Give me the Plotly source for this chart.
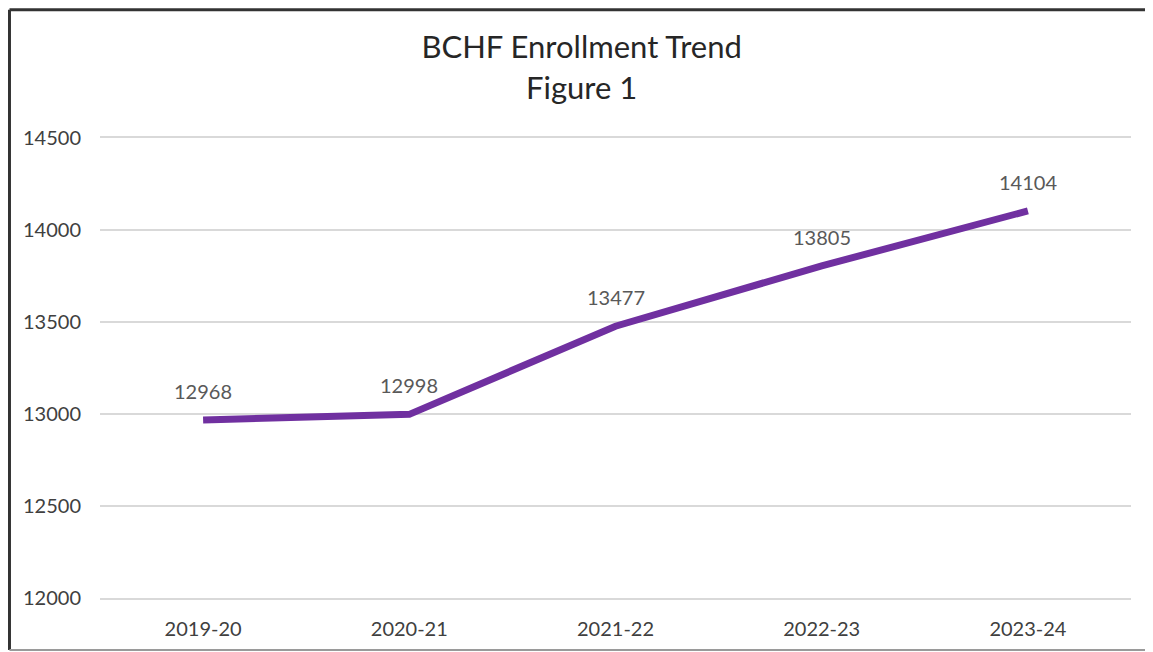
import plotly.graph_objects as go

years = ['2019-20', '2020-21', '2021-22', '2022-23', '2023-24']
enrollment = [12968, 12998, 13477, 13805, 14104]
y_ticks = [12000, 12500, 13000, 13500, 14000, 14500]

purple = '#7030A0'
font_family = 'Lato, Open Sans, sans-serif'

fig = go.Figure()
fig.add_trace(go.Scatter(
    x=years, y=enrollment, mode='lines',
    line=dict(color=purple, width=7),
    hoverinfo='x+y', showlegend=False,
))

# data labels above each point
for yr, val in zip(years, enrollment):
    fig.add_annotation(
        x=yr, y=val, text=str(val), showarrow=False,
        yshift=29, font=dict(family=font_family, size=20, color='#595959'),
    )

# frame round the whole chart (dark on left/top, lighter on right/bottom)
fx0, fx1, fy0, fy1 = -0.0878, 1.0194, -0.113, 1.279
fig.add_shape(type='line', xref='paper', yref='paper', x0=fx0, x1=fx0, y0=fy0, y1=fy1,
              line=dict(color='#333333', width=3))
fig.add_shape(type='line', xref='paper', yref='paper', x0=fx0, x1=fx1, y0=fy1, y1=fy1,
              line=dict(color='#333333', width=3))
fig.add_shape(type='line', xref='paper', yref='paper', x0=fx1, x1=fx1, y0=fy0, y1=fy1,
              line=dict(color='#bfbfbf', width=2))
fig.add_shape(type='line', xref='paper', yref='paper', x0=fx0, x1=fx1, y0=fy0, y1=fy0,
              line=dict(color='#9a9a9a', width=2))

fig.update_layout(
    width=1145, height=644,
    margin=dict(l=92, r=22, t=130, b=54),
    paper_bgcolor='white', plot_bgcolor='white',
    font=dict(family=font_family, color='#404040'),
    title=dict(
        text='BCHF Enrollment Trend<br>Figure 1',
        x=0.501, xanchor='center', yref='container', y=0.922, yanchor='middle',
        font=dict(family=font_family, size=31, color='#262626'),
    ),
)
fig.update_xaxes(
    range=[-0.5, 4.5],
    showgrid=False, zeroline=False,
    showline=True, mirror=True, linecolor='#d9d9d9', linewidth=1.5,
    tickfont=dict(size=20, color='#404040'), ticklabelstandoff=12,
)
fig.update_yaxes(
    range=[12000, 14500], tickvals=y_ticks, tickformat='d',
    showgrid=True, gridcolor='#d9d9d9', gridwidth=1.5,
    zeroline=False, showline=False,
    tickfont=dict(size=20, color='#404040'), ticklabelstandoff=18,
)

fig.write_html('out.html')
